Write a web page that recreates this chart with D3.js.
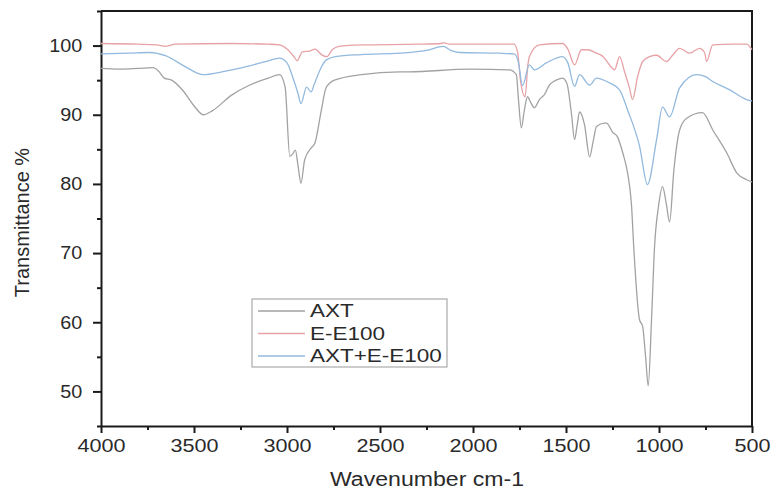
<!DOCTYPE html>
<meta charset="utf-8">
<style>
body { margin: 0; background: #fff; }
svg { font-family: "Liberation Sans", Arial, sans-serif; }
.axis path, .axis line { stroke: #1a1a1a; }
.axis text { fill: #2a2a2a; }
</style>
<body>
<svg></svg>
</body>
<script src="https://cdn.jsdelivr.net/npm/d3@7"></script>
<script>

// wavenumber (cm-1), transmittance (%)
var axt = [
  [4000,96.7],[3900,96.6],[3800,96.7],[3720,96.8],[3690,96.3],[3660,95.3],[3620,95.0],
  [3560,93.5],[3500,91.3],[3450,90.0],[3400,90.6],[3300,92.8],[3200,94.3],[3100,95.3],
  [3040,95.8],[3010,94.0],[2985,84.0],[2970,84.3],[2955,84.9],[2940,82.5],[2925,80.1],
  [2905,83.5],[2870,85.2],[2850,85.9],[2815,90.7],[2790,93.9],[2745,95.0],[2600,95.8],
  [2395,96.2],[2342,96.2],[2020,96.6],[1804,96.5],[1767,95.8],[1755,92.0],[1740,88.1],
  [1725,90.5],[1707,92.6],[1690,91.8],[1670,91.0],[1643,92.2],[1616,92.9],[1589,94.3],
  [1535,95.2],[1519,95.3],[1495,94.5],[1470,90.0],[1454,86.4],[1440,88.5],[1427,90.4],
  [1400,88.5],[1373,83.9],[1355,86.0],[1336,88.3],[1293,88.8],[1282,88.8],[1250,87.5],
  [1223,86.8],[1195,84.5],[1169,81.6],[1148,77.0],[1135,70.5],[1105,60.4],[1088,59.4],
  [1072,55.0],[1058,50.8],[1040,60.5],[1024,70.9],[1003,76.7],[981,79.6],[960,77.0],
  [943,74.5],[920,82.0],[889,87.8],[851,89.5],[766,90.3],[711,87.8],[636,84.5],
  [582,81.6],[529,80.6],[500,80.3]
];

var ee100 = [
  [4000,100.3],[3800,100.2],[3700,100.1],[3650,99.9],[3600,100.2],[3300,100.3],[3100,100.2],
  [3040,100.1],[3000,99.5],[2960,98.3],[2945,97.8],[2918,99.1],[2880,99.2],[2848,99.5],
  [2815,98.7],[2785,98.4],[2757,99.4],[2720,99.9],[2600,100.1],[2300,100.2],[2170,100.3],
  [2154,100.4],[2130,100.2],[1900,100.2],[1780,100.2],[1760,99.0],[1745,95.0],[1720,92.6],
  [1705,97.2],[1697,98.4],[1643,100.1],[1519,100.3],[1490,99.5],[1454,97.2],[1417,99.4],
  [1384,99.4],[1336,98.9],[1300,98.4],[1266,97.2],[1239,96.5],[1212,98.4],[1185,96.2],
  [1160,94.0],[1142,92.2],[1115,95.5],[1088,97.7],[1050,98.4],[1013,98.6],[960,97.7],
  [927,98.6],[889,99.6],[835,98.9],[782,99.6],[755,99.0],[744,97.7],[711,100.1],
  [600,100.2],[530,100.2],[500,99.4]
];

var axtEe100 = [
  [4000,98.8],[3850,98.9],[3742,99.0],[3650,98.5],[3550,97.0],[3450,95.8],[3350,96.2],
  [3257,96.7],[3100,97.8],[3040,98.2],[3000,97.5],[2970,95.5],[2940,93.0],[2925,91.6],
  [2895,94.0],[2870,93.3],[2855,94.3],[2815,96.9],[2790,97.9],[2740,98.4],
  [2600,98.7],[2396,98.9],[2250,99.3],[2160,99.9],[2120,99.3],[2073,99.0],[1858,98.9],
  [1778,98.8],[1755,97.5],[1734,94.2],[1697,97.2],[1670,96.5],[1606,97.5],[1519,98.4],
  [1490,97.5],[1454,94.1],[1427,95.8],[1373,94.3],[1336,95.3],[1266,94.6],[1212,93.6],
  [1169,90.7],[1104,85.4],[1062,79.9],[1013,86.4],[981,91.1],[943,89.7],[889,93.9],
  [798,95.8],[750,95.5],[711,94.8],[620,93.6],[530,92.2],[500,92.0]
];

var seriesNames = ["AXT", "E-E100", "AXT+E-E100"];
var xTicks = [4000, 3500, 3000, 2500, 2000, 1500, 1000, 500];
var yTicks = [50, 60, 70, 80, 90, 100];

var width = 773, height = 493;
var margin = {top: 11, right: 21, bottom: 67, left: 101};

var svg = d3.select("svg").attr("width", width).attr("height", height);

var x = d3.scaleLinear().domain([4000, 500]).range([margin.left, width - margin.right]);
var y = d3.scaleLinear().domain([45, 105]).range([height - margin.bottom, margin.top]);

var color = d3.scaleOrdinal().domain(seriesNames).range(["#a2a2a2", "#e6a2a6", "#92b9de"]);

// minor ticks
var xMinor = d3.range(4000, 499, -250).filter(function(d) { return xTicks.indexOf(d) < 0; });
var yMinor = d3.range(45, 106, 5).filter(function(d) { return yTicks.indexOf(d) < 0; });

svg.append("g")
    .attr("class", "axis")
    .attr("transform", "translate(0," + (height - margin.bottom) + ")")
    .call(d3.axisBottom(x).tickValues(xMinor).tickSize(4).tickFormat(""))
    .call(function(g) { g.select(".domain").remove(); })
    .selectAll("line").attr("stroke-width", 2);

svg.append("g")
    .attr("class", "axis")
    .attr("transform", "translate(" + margin.left + ",0)")
    .call(d3.axisLeft(y).tickValues(yMinor).tickSize(4).tickFormat(""))
    .call(function(g) { g.select(".domain").remove(); })
    .selectAll("line").attr("stroke-width", 2);

var xAxis = svg.append("g")
    .attr("class", "axis")
    .attr("transform", "translate(0," + (height - margin.bottom) + ")")
    .call(d3.axisBottom(x).tickValues(xTicks).tickSize(7).tickSizeOuter(0)
      .tickPadding(6).tickFormat(d3.format("d")));
xAxis.selectAll("text")
    .style("font-size", "18px")
    .attr("transform", "scale(1.2,1)");
xAxis.selectAll("line, path").attr("stroke-width", 2);

var yAxis = svg.append("g")
    .attr("class", "axis")
    .attr("transform", "translate(" + margin.left + ",0)")
    .call(d3.axisLeft(y).tickValues(yTicks).tickSize(8).tickSizeOuter(0).tickPadding(10));
yAxis.selectAll("text")
    .style("font-size", "18px")
    .attr("x", -17)
    .attr("transform", "scale(1.1,1)");
yAxis.selectAll("line, path").attr("stroke-width", 2);

// top and right frame
svg.append("path")
    .attr("d", "M" + margin.left + "," + margin.top + "H" + (width - margin.right) + "V" + (height - margin.bottom))
    .attr("fill", "none")
    .attr("stroke", "#1a1a1a")
    .attr("stroke-width", 2);

var line = d3.line()
    .x(function(d) { return x(d[0]); })
    .y(function(d) { return y(d[1]); })
    .curve(d3.curveMonotoneX);

var data = [axt, ee100, axtEe100];
svg.append("g").selectAll("path")
    .data(data)
    .enter().append("path")
      .attr("d", line)
      .attr("fill", "none")
      .attr("stroke", function(d, i) { return color(seriesNames[i]); })
      .attr("stroke-width", 1.3)
      .attr("stroke-linejoin", "round");

// axis titles
svg.append("text")
    .attr("transform", "translate(29," + ((margin.top + height - margin.bottom) / 2 + 4) + ") rotate(-90)")
    .attr("text-anchor", "middle")
    .style("font-size", "20px")
    .attr("fill", "#2a2a2a")
    .text("Transmittance %");

svg.append("text")
    .attr("transform", "translate(427,486) scale(1.1,1)")
    .attr("text-anchor", "middle")
    .style("font-size", "21px")
    .attr("fill", "#2a2a2a")
    .text("Wavenumber cm-1");

// legend
var legend = svg.append("g").attr("transform", "translate(252,299)");
legend.append("rect")
    .attr("width", 195)
    .attr("height", 68)
    .attr("fill", "#fff")
    .attr("stroke", "#aaa")
    .attr("stroke-width", 1.2);

var item = legend.selectAll(".item")
    .data(seriesNames)
    .enter().append("g")
      .attr("class", "item")
      .attr("transform", function(d, i) { return "translate(0," + (12 + i * 22.5) + ")"; });

item.append("line")
    .attr("x1", 6).attr("x2", 53)
    .attr("stroke", color)
    .attr("stroke-width", 1.4);

item.append("text")
    .attr("transform", "translate(58,0) scale(1.25,1)")
    .attr("dy", "0.36em")
    .style("font-size", "18px")
    .attr("fill", "#2a2a2a")
    .text(function(d) { return d; });

</script>
